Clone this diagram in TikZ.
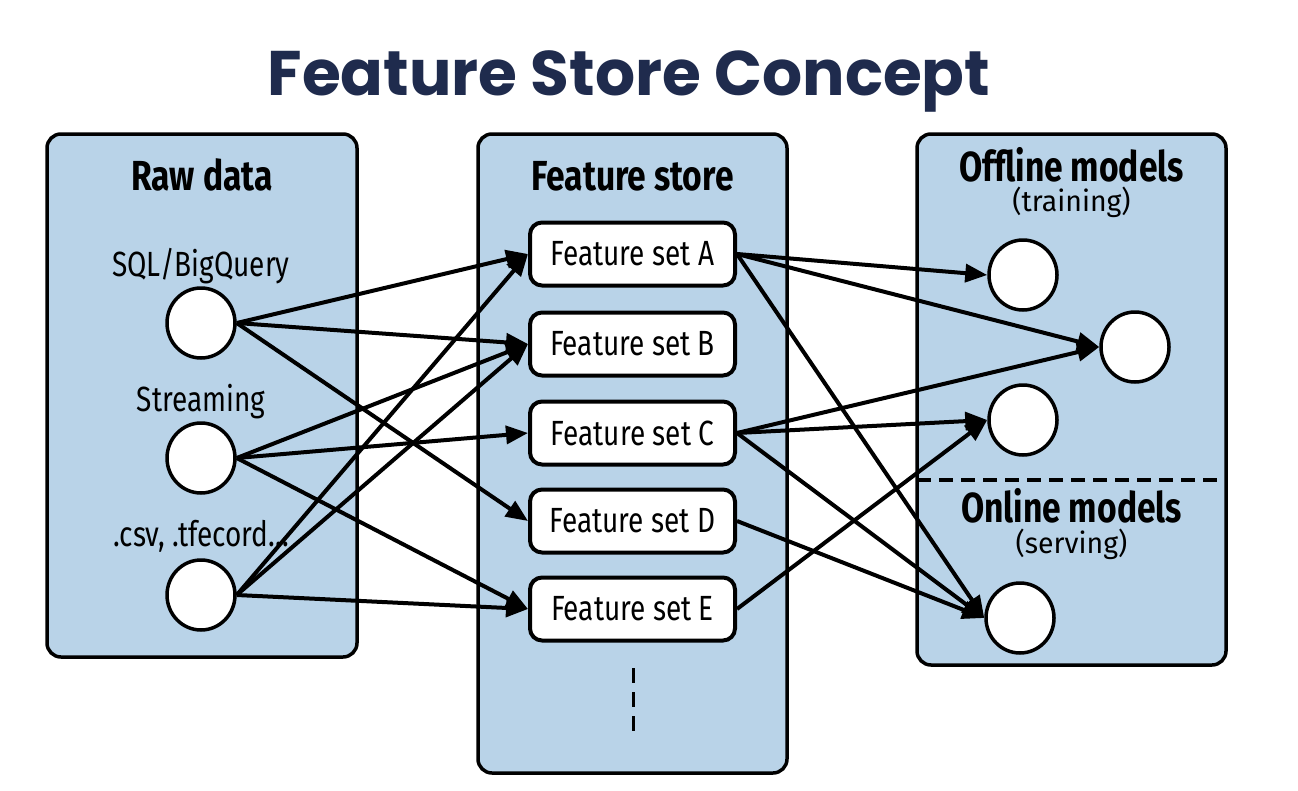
\documentclass[tikz,border=0pt]{standalone}
\usepackage{fontspec}
\setmainfont[FakeStretch=0.8]{Fira Sans}
\newfontfamily\subfont[FakeStretch=0.98]{Fira Sans}
\newfontfamily\titlefont{Poppins}
\usetikzlibrary{arrows.meta,shapes.geometric}
\definecolor{boxblue}{RGB}{185,211,232}
\definecolor{navy}{RGB}{31,43,77}
\begin{document}
\begin{tikzpicture}[x=1pt,y=-1pt,
  panel/.style={draw=black, line width=3.5pt, fill=boxblue, rounded corners=14pt, inner sep=0pt},
  fset/.style={draw=black, line width=4pt, fill=white, rounded corners=12pt, minimum width=205pt, minimum height=63pt, inner sep=0pt, font=\fontsize{35}{35}\selectfont},
  dot/.style={ellipse, draw=black, line width=3.5pt, fill=white, minimum width=68pt, minimum height=70pt, inner sep=0pt},
  conn/.style={line width=4pt, -{Triangle[length=22pt,width=18pt]}},
  head/.style={font=\bfseries\fontsize{42}{42}\selectfont, anchor=base, inner sep=0pt},
  lbl/.style={font=\fontsize{35}{35}\selectfont, anchor=base, inner sep=0pt},
  sub/.style={font=\subfont\fontsize{29}{29}\selectfont, anchor=base, inner sep=0pt}
]
\useasboundingbox (0,0) rectangle (1298,790);
\fill[white] (0,0) rectangle (1298,790);

% title
\node[font=\titlefont\bfseries\fontsize{63}{63}\selectfont, text=navy, anchor=base, inner sep=0pt] (title) at (629,95) {Feature Store Concept};

% panels
\node[panel, minimum width=310pt, minimum height=523pt] (raw) at (202,395.5) {};
\node[panel, minimum width=309pt, minimum height=639pt] (store) at (632.5,453.5) {};
\node[panel, minimum width=309pt, minimum height=531pt] (models) at (1071.5,399.5) {};

% headings
\node[head] (rawh) at (202,190) {Raw data};
\node[head] (storeh) at (632.5,190) {Feature store};
\node[head] (offh) at (1071.5,181) {Offline models};
\node[sub] (offs) at (1071.5,211) {(training)};
\node[head] (onh) at (1071.5,522) {Online models};
\node[sub] (ons) at (1071.5,553) {(serving)};

% raw data sources
\node[lbl] (sqll) at (201,276) {SQL/BigQuery};
\node[lbl] (strl) at (201,411) {Streaming};
\node[lbl] (csvl) at (201,546) {.csv, .tfecord...};
\node[dot] (s1) at (201,323) {};
\node[dot] (s2) at (201,458) {};
\node[dot] (s3) at (201,595) {};

% feature sets
\node[fset] (fa) at (632.5,254) {Feature set A};
\node[fset] (fb) at (632.5,344) {Feature set B};
\node[fset] (fc) at (632.5,433) {Feature set C};
\node[fset] (fd) at (632.5,521) {Feature set D};
\node[fset] (fe) at (632.5,609) {Feature set E};
\coordinate (vd1) at (633,668);
\coordinate (vd2) at (633,731);
\draw[line width=3pt, dash pattern=on 15pt off 9pt] (vd1) -- (vd2);

% models
\node[dot] (o1) at (1023,275) {};
\node[dot] (o2) at (1135,347) {};
\node[dot] (o3) at (1023,420) {};
\node[dot] (on1) at (1020,618) {};
\coordinate (dl1) at (917,480);
\coordinate (dl2) at (1226,480);
\draw[line width=3.5pt, dash pattern=on 14pt off 8pt] (dl1) -- (dl2);

% connectors raw -> store
\draw[conn] (s1.east) -- (fa.west);
\draw[conn] (s1.east) -- (fb.west);
\draw[conn] (s1.east) -- (fd.west);
\draw[conn] (s2.east) -- (fb.west);
\draw[conn] (s2.east) -- (fc.west);
\draw[conn] (s2.east) -- (fe.west);
\draw[conn] (s3.east) -- (fa.west);
\draw[conn] (s3.east) -- (fb.west);
\draw[conn] (s3.east) -- (fe.west);

% connectors store -> models
\draw[conn] (fa.east) -- (o1.west);
\draw[conn] (fa.east) -- (o2.west);
\draw[conn] (fa.east) -- (on1.west);
\draw[conn] (fc.east) -- (o2.west);
\draw[conn] (fc.east) -- (o3.west);
\draw[conn] (fc.east) -- (on1.west);
\draw[conn] (fd.east) -- (on1.west);
\draw[conn] (fe.east) -- (o3.west);
\end{tikzpicture}
\end{document}
